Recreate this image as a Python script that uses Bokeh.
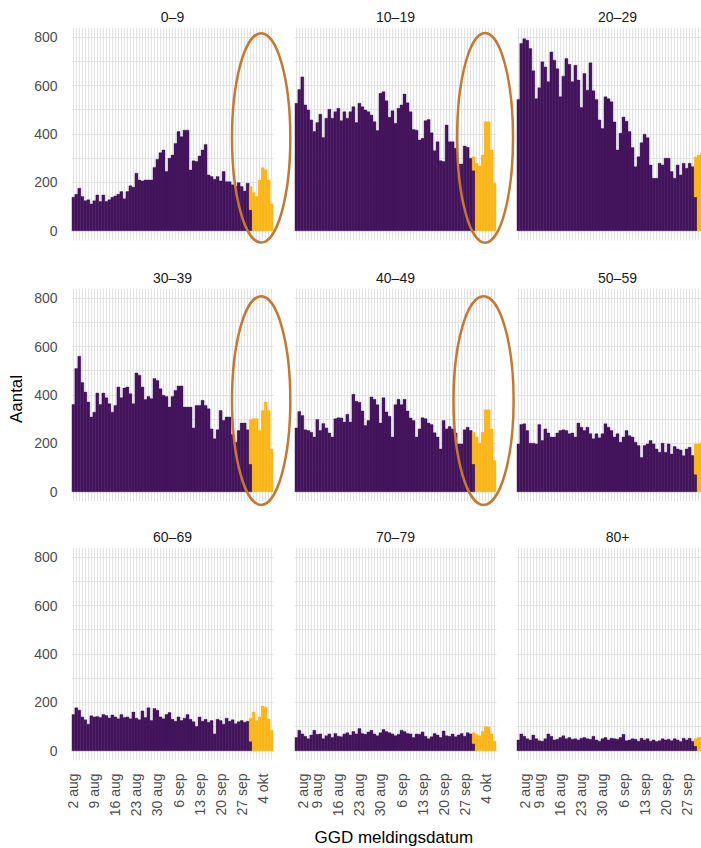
import math
import numpy as np
from bokeh.plotting import figure
from bokeh.layouts import gridplot
from bokeh.models import Range1d, FixedTicker, BoxAnnotation, Label, Title
from bokeh.embed import file_html
from bokeh.resources import INLINE

# ---------------- data ----------------
panels = ["0–9", "10–19", "20–29", "30–39", "40–49", "50–59", "60–69", "70–79", "80+"]
tick_labels = ["2 aug", "9 aug", "16 aug", "23 aug", "30 aug", "6 sep",
               "13 sep", "20 sep", "27 sep", "4 okt"]
n_days = 67          # 2 aug .. 7 okt
first_recent = 59    # first day with (yellow) not-yet-complete part

# purple part, day 0..59
complete_0_9 = [139, 151, 176, 142, 124, 128, 111, 124, 148, 121,
                148, 121, 128, 139, 144, 151, 162, 132, 162, 186,
                180, 238, 210, 206, 210, 210, 210, 262, 296, 323,
                334, 245, 300, 313, 361, 410, 389, 416, 416, 251,
                289, 286, 309, 334, 357, 231, 224, 213, 224, 206,
                245, 203, 203, 190, 183, 199, 183, 164, 197, 87]
complete_10_19 = [527, 584, 636, 520, 499, 458, 410, 447, 482, 386,
                  465, 502, 465, 492, 506, 455, 492, 465, 492, 513,
                  447, 527, 513, 499, 492, 478, 451, 414, 568, 575,
                  537, 469, 496, 444, 506, 520, 565, 529, 492, 419,
                  416, 375, 382, 455, 460, 405, 331, 368, 290, 286,
                  437, 368, 368, 341, 276, 276, 350, 345, 300, 250]
complete_20_29 = [543, 774, 794, 787, 753, 661, 546, 591, 698, 677,
                  616, 739, 705, 670, 554, 639, 712, 688, 616, 684,
                  623, 510, 650, 581, 694, 579, 543, 458, 423, 554,
                  546, 533, 450, 334, 403, 470, 453, 410, 344, 265,
                  306, 364, 399, 385, 272, 217, 217, 279, 272, 300,
                  300, 245, 217, 272, 231, 279, 258, 279, 265, 140]
complete_30_39 = [361, 509, 560, 452, 412, 371, 309, 329, 408, 361,
                  408, 389, 364, 329, 357, 433, 389, 429, 433, 405,
                  364, 491, 482, 433, 381, 394, 385, 468, 460, 426,
                  399, 394, 350, 394, 419, 437, 437, 350, 350, 350,
                  264, 357, 357, 378, 357, 343, 260, 219, 256, 336,
                  295, 309, 309, 237, 205, 253, 284, 284, 256, 115]
complete_40_49 = [264, 332, 315, 256, 253, 246, 226, 299, 253, 282,
                  264, 243, 226, 302, 306, 305, 288, 320, 288, 403,
                  374, 370, 334, 274, 295, 392, 382, 360, 284, 389,
                  330, 312, 226, 360, 382, 360, 382, 334, 305, 295,
                  226, 260, 306, 302, 284, 278, 244, 226, 177, 295,
                  260, 270, 260, 243, 198, 198, 256, 267, 253, 115]
complete_50_59 = [198, 278, 281, 253, 201, 201, 198, 278, 212, 260,
                  243, 226, 226, 243, 253, 256, 253, 240, 243, 226,
                  284, 267, 253, 267, 240, 219, 240, 223, 240, 281,
                  267, 253, 226, 240, 205, 226, 253, 232, 226, 205,
                  191, 142, 191, 198, 212, 198, 177, 163, 201, 163,
                  198, 156, 187, 177, 173, 149, 177, 184, 150, 73]
complete_60_69 = [150, 178, 168, 140, 128, 110, 145, 140, 142, 138,
                  150, 146, 136, 148, 140, 132, 150, 138, 140, 132,
                  160, 135, 128, 165, 138, 178, 125, 175, 168, 140,
                  132, 150, 158, 130, 122, 140, 125, 135, 150, 130,
                  120, 100, 140, 122, 130, 118, 125, 70, 130, 125,
                  110, 135, 122, 128, 112, 120, 125, 118, 122, 40]
complete_70_79 = [55, 85, 70, 60, 50, 65, 85, 68, 70, 50,
                  62, 70, 55, 72, 60, 58, 70, 75, 65, 80,
                  70, 92, 72, 68, 78, 85, 70, 62, 75, 88,
                  80, 75, 70, 62, 68, 85, 80, 72, 70, 55,
                  70, 68, 78, 60, 50, 58, 72, 65, 55, 82,
                  62, 60, 70, 58, 65, 72, 60, 75, 70, 30]
complete_80 = [45, 70, 60, 50, 45, 65, 50, 42, 40, 50,
               70, 60, 45, 48, 55, 62, 50, 55, 48, 50,
               45, 52, 55, 50, 48, 60, 45, 40, 50, 55,
               45, 52, 50, 48, 55, 68, 42, 45, 50, 48,
               40, 52, 45, 50, 40, 45, 38, 42, 50, 45,
               48, 42, 50, 45, 38, 52, 45, 52, 40, 20]

# yellow part, day 59..66
recent_0_9 = [96, 158, 142, 210, 261, 252, 210, 111]
recent_10_19 = [56, 279, 268, 313, 451, 451, 334, 197]
recent_20_29 = [165, 313, 320, 300, 330, 280, 260, 150]
recent_30_39 = [183, 302, 302, 253, 336, 371, 336, 177]
recent_40_49 = [131, 226, 201, 246, 339, 339, 260, 129]
recent_50_59 = [125, 198, 205, 200, 250, 240, 220, 110]
recent_60_69 = [95, 160, 125, 140, 185, 180, 131, 85]
recent_70_79 = [45, 68, 62, 80, 100, 98, 70, 40]
recent_80 = [30, 55, 58, 50, 60, 70, 55, 30]

complete_all = [complete_0_9, complete_10_19, complete_20_29, complete_30_39,
                complete_40_49, complete_50_59, complete_60_69, complete_70_79,
                complete_80]
recent_all = [recent_0_9, recent_10_19, recent_20_29, recent_30_39,
              recent_40_49, recent_50_59, recent_60_69, recent_70_79, recent_80]

# highlighted ellipses (annotation), per panel
ring_panels = ["0–9", "10–19", "30–39", "40–49"]
ring_x = [62.5, 62.8, 62.5, 62.3]
ring_y = [384, 384, 377, 377]
ring_w = [19.4, 18.6, 19.4, 20.0]
ring_h = [865, 866, 862, 862]

# ---------------- style / layout ----------------
FONT = "Liberation Sans"
PURPLE = "#43145c"
GOLD = "#fbb618"
RING = "#c47830"
GRID = "#e2e2e2"
TXT = "#4d4d4d"

data_w = 202
data_h = 213
gap_x = [21, 20, 0]
col3_w = 185
ext_bottom = [8, 8, 0]
border_top = [27, 23, 23]
border_bottom = [17, 15, 86]
left_border = 71
y_lo, y_hi = -40, 840
day_px = data_w / (n_days + 0.2)
val_px = data_h / (y_hi - y_lo)

major_x = list(range(0, n_days, 7))
minor_x = [k for k in range(n_days) if k % 7]
label_map = {k: lab for k, lab in zip(major_x, tick_labels)}

rows = []
for r in range(3):
    row = []
    for c in range(3):
        i = r * 3 + c
        if c < 2:
            fw = data_w + gap_x[c]
            x_end = n_days - 0.4 + gap_x[c] / day_px
        else:
            fw = col3_w
            x_end = -0.6 + col3_w / day_px
        fh = data_h + ext_bottom[r]
        y_start = y_lo - ext_bottom[r] / val_px
        p = figure(frame_width=fw, frame_height=fh,
                   x_range=Range1d(-0.6, x_end), y_range=Range1d(y_start, y_hi),
                   output_backend="svg", toolbar_location=None, tools="",
                   x_axis_location="below" if r == 2 else None,
                   y_axis_location="left" if c == 0 else None,
                   min_border_left=left_border if c == 0 else 0,
                   min_border_right=0, min_border_top=border_top[r],
                   min_border_bottom=border_bottom[r])
        p.background_fill_color = "white"
        p.border_fill_color = "white"
        p.outline_line_color = None

        xt = FixedTicker(ticks=major_x, minor_ticks=minor_x)
        yt = FixedTicker(ticks=[0, 200, 400, 600, 800], minor_ticks=[100, 300, 500, 700])
        p.xgrid.ticker = xt
        p.ygrid.ticker = yt
        for g in (p.xgrid, p.ygrid):
            g.grid_line_color = GRID
            g.minor_grid_line_color = GRID
            g.grid_line_width = 1
            g.minor_grid_line_width = 1

        if r == 2:
            ax = p.xaxis[0]
            ax.ticker = xt
            ax.major_label_overrides = label_map
            ax.major_label_orientation = math.pi / 2
            ax.major_label_text_font = FONT
            ax.major_label_text_font_size = "14px"
            ax.major_label_text_color = TXT
            ax.major_label_standoff = 7
            ax.axis_line_color = None
            ax.major_tick_line_color = None
            ax.minor_tick_line_color = None
        if c == 0:
            ay = p.yaxis[0]
            ay.ticker = yt
            ay.major_label_text_font = FONT
            ay.major_label_text_font_size = "14px"
            ay.major_label_text_color = TXT
            ay.major_label_standoff = 8
            ay.axis_line_color = None
            ay.major_tick_line_color = None
            ay.minor_tick_line_color = None
            if r == 1:
                ay.axis_label = "Aantal"
                ay.axis_label_text_font = FONT
                ay.axis_label_text_font_size = "17px"
                ay.axis_label_text_font_style = "normal"
                ay.axis_label_text_color = "black"
                ay.axis_label_standoff = 5

        comp = np.array(complete_all[i], dtype=float)
        rec = np.array(recent_all[i], dtype=float)
        xs = np.arange(len(comp))
        p.vbar(x=xs, top=comp, bottom=0, width=1,
               fill_color=PURPLE, line_color=PURPLE, line_width=0.4)
        xr = np.arange(first_recent, first_recent + len(rec))
        base = np.array([comp[k] if k < len(comp) else 0.0 for k in xr])
        p.vbar(x=xr, bottom=base, top=base + rec, width=1,
               fill_color=GOLD, line_color=GOLD, line_width=0.4)

        # cover the frame extensions (gap between panels)
        if c < 2:
            p.add_layout(BoxAnnotation(left=n_days - 0.4, fill_color="white", fill_alpha=1,
                                       line_color=None, level="glyph"))
        if ext_bottom[r] > 0:
            p.add_layout(BoxAnnotation(top=y_lo, fill_color="white", fill_alpha=1,
                                       line_color=None, level="glyph"))

        if panels[i] in ring_panels:
            j = ring_panels.index(panels[i])
            er = p.ellipse(x=[ring_x[j]], y=[ring_y[j]], width=[ring_w[j]], height=[ring_h[j]],
                           fill_alpha=0, line_color=RING, line_width=2.5)
            er.level = "overlay"

        p.add_layout(Label(x=(n_days - 1) / 2, y=11, x_units="data", y_units="screen",
                           text=panels[i], text_align="center", text_baseline="middle",
                           text_font=FONT, text_font_size="14px", text_color="#1a1a1a"),
                     "above")
        if r == 2 and c == 1:
            p.add_layout(Title(text="GGD meldingsdatum", align="left", offset=20,
                               standoff=12, text_font=FONT, text_font_size="17px",
                               text_font_style="normal", text_color="black"),
                         "below")
        row.append(p)
    rows.append(row)

grid = gridplot(rows, toolbar_location=None)
open("out.html", "w").write(file_html(grid, INLINE))
